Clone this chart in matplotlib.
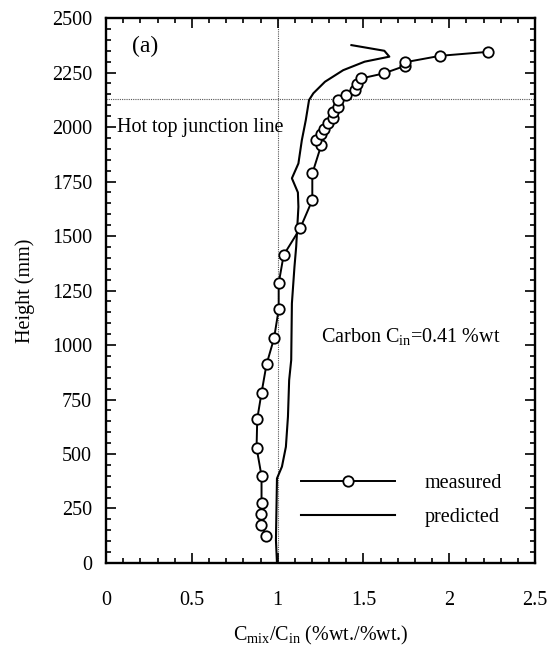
import matplotlib
matplotlib.use("Agg")
import matplotlib.pyplot as plt
from matplotlib.ticker import MultipleLocator

plt.rcParams['font.family'] = ['Liberation Serif', 'DejaVu Serif']
plt.rcParams['mathtext.fontset'] = 'custom'
plt.rcParams['mathtext.rm'] = 'Liberation Serif'

# measured points (ratio, height mm)
meas_ratio = [0.933, 0.904, 0.904, 0.906, 0.906, 0.877, 0.881, 0.906, 0.935, 0.979,
              1.006, 1.006, 1.035, 1.131, 1.202, 1.202, 1.254, 1.225, 1.254, 1.272,
              1.295, 1.324, 1.324, 1.353, 1.353, 1.399, 1.451, 1.462, 1.486, 1.618,
              1.740, 1.740, 1.948, 2.225]
meas_height = [125, 174, 225, 277, 399, 529, 661, 781, 911, 1031,
               1164, 1283, 1413, 1535, 1665, 1787, 1917, 1940, 1967, 1990,
               2020, 2040, 2070, 2092, 2124, 2147, 2170, 2196, 2223, 2246,
               2280, 2297, 2327, 2345]

# predicted curve
pred_ratio = [0.996, 0.99, 0.996, 1.025, 1.048, 1.06, 1.067, 1.079, 1.083, 1.098,
              1.108, 1.121, 1.118, 1.083, 1.121, 1.141, 1.164, 1.183, 1.208, 1.276,
              1.382, 1.507, 1.651, 1.622, 1.43]
pred_height = [0, 105, 388, 442, 533, 671, 839, 931, 1191, 1359,
               1451, 1634, 1700, 1765, 1833, 1940, 2032, 2124, 2155, 2208,
               2261, 2300, 2323, 2350, 2376]

hot_top = 2130
fs = 14.5

fig = plt.figure(figsize=(5.47, 6.46), dpi=100)
ax = fig.add_axes([0.194, 0.1285, 0.784, 0.8435])

ax.axvline(1.0, color='#555555', lw=0.8, ls=(0, (1, 1)), zorder=1)
ax.axhline(hot_top, color='#555555', lw=0.8, ls=(0, (1, 1)), zorder=1)

ax.plot(meas_ratio, meas_height, color='black', lw=1.4, marker='o', ms=7.5,
        mfc='white', mec='black', mew=1.3, label='measured', zorder=3)
ax.plot(pred_ratio, pred_height, color='black', lw=1.5, label='predicted', zorder=2)

ax.set_xlim(0, 2.5)
ax.set_ylim(0, 2500)
ax.xaxis.set_major_locator(MultipleLocator(0.5))
ax.xaxis.set_minor_locator(MultipleLocator(0.1))
ax.yaxis.set_major_locator(MultipleLocator(250))
ax.yaxis.set_minor_locator(MultipleLocator(50))
ax.set_xticks([0, 0.5, 1, 1.5, 2, 2.5])
ax.set_xticklabels(['0', '0.5', '1', '1.5', '2', '2.5'])
ax.tick_params(which='both', direction='in', top=True, right=True, labelsize=fs, width=1.2)
ax.tick_params(which='major', length=7)
ax.tick_params(which='minor', length=3.5)
ax.tick_params(axis='x', pad=20)
ax.tick_params(axis='y', pad=10)
for s in ax.spines.values():
    s.set_linewidth(1.7)

ax.set_xlabel(r'C$_{\mathrm{mix}}$/C$_{\mathrm{in}}$ (%wt./%wt.)', fontsize=fs, labelpad=10)
ax.set_ylabel('Height (mm)', fontsize=fs, labelpad=12)

ax.text(0.15, 2370, '(a)', fontsize=17, va='center', ha='left')
ax.text(0.064, 2000, 'Hot top junction line', fontsize=fs, va='center', ha='left')
ax.text(1.254, 1037, r'Carbon C$_{\mathrm{in}}$=0.41 %wt', fontsize=fs, va='center', ha='left')

ax.legend(loc='upper left', bbox_to_anchor=(0.4537, 0.163), frameon=False, fontsize=fs,
          handlelength=4.7, handletextpad=1.44, labelspacing=0.75, numpoints=1,
          borderpad=0, borderaxespad=0)

fig.savefig('out.png', dpi=100)
